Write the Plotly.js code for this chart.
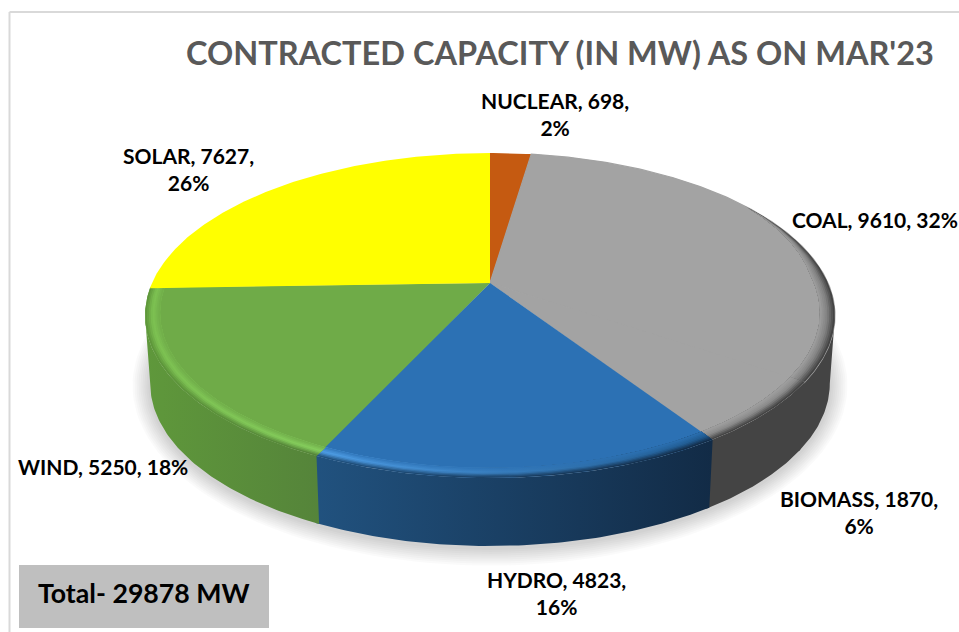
<!DOCTYPE html>
<html>
<head>
<meta charset="utf-8">
<script src="https://cdn.plot.ly/plotly-3.0.1.min.js"></script>
<style>html,body{margin:0;padding:0;background:#fff;overflow:hidden}#chart{width:959px;height:632px}</style>
</head>
<body>
<div id="chart"></div>
<script>
// ---- data ----
const categories = ['NUCLEAR', 'COAL', 'BIOMASS', 'HYDRO', 'WIND', 'SOLAR'];
const capacityMW = [698, 9610, 1870, 4823, 5250, 7627];
const chartTitle = "CONTRACTED CAPACITY (IN MW) AS ON MAR'23";
const totalLabel = 'Total- 29878 MW';

// ---- styles ----
const styles = {
  NUCLEAR: {base:'#c55a11', hlL:'#c55a11', hlR:'#c55a11', sideL:'#c55a11', sideR:'#c55a11'},
  COAL:    {base:'#a3a3a3', hlL:'#8a8a8a', hlR:'#808080', sideL:'#444444', sideR:'#444444'},
  BIOMASS: {base:'#a3a3a3', hlL:'#8a8a8a', hlR:'#8a8a8a', sideL:'#444444', sideR:'#444444'},
  HYDRO:   {base:'#2c71b4', hlL:'#4f9fe8', hlR:'#1f5a90', sideL:'#21527f', sideR:'#122b46'},
  WIND:    {base:'#6fab48', hlL:'#7dc252', hlR:'#86cf5e', sideL:'#5f983b', sideR:'#55843a'},
  SOLAR:   {base:'#ffff00', hlL:'#ffff00', hlR:'#ffff00', sideL:'#ffff00', sideR:'#ffff00'}
};
const labelPlacement = {
  NUCLEAR:{x:555,y:114,anchor:'center',wrap:1},
  COAL:   {x:790,y:219,anchor:'left',wrap:0},
  BIOMASS:{x:859,y:512,anchor:'center',wrap:1},
  HYDRO:  {x:556,y:593,anchor:'center',wrap:1},
  WIND:   {x:16,y:466,anchor:'left',wrap:0},
  SOLAR:  {x:188,y:169,anchor:'center',wrap:1}
};

// ---- pie geometry (perspective view of a tilted disc) ----
const cx = 490, apexY = 283, A = 338, B = 156, K = 0.2, DEPTH = 68, BEVEL = 0.042, LAYERS = 9;
const TAU = 2 * Math.PI;
const RIM_START = Math.acos(0.55);          // bevel only on the part of the rim facing the viewer
const WALL_START = Math.acos(-K);           // silhouette of the disc: wall visible beyond it
function project(u, v) {
  const w = 1 + K * v;
  return [cx + A * u / w, apexY - B * v / w];
}
function radiusAt(theta, t) {
  const v = Math.cos(theta);
  const f = Math.max(0, Math.min(1, (0.55 - v) / 0.5));
  return 1 - BEVEL * t * f;
}
function arc(a0, a1, t) {
  const n = Math.max(4, Math.ceil((a1 - a0) / 0.012)), pts = [];
  for (let i = 0; i <= n; i++) {
    const th = a0 + (a1 - a0) * i / n, r = radiusAt(th, t);
    pts.push(project(r * Math.sin(th), r * Math.cos(th)));
  }
  return pts;
}
function hex(c){return [1,3,5].map(i=>parseInt(c.substr(i,2),16));}
function mixHex(a,b,t){const p=hex(a),q=hex(b);return '#'+p.map((v,i)=>Math.round(v+(q[i]-v)*t).toString(16).padStart(2,'0')).join('');}

function poly(pts, extra) {
  const xs = pts.map(p=>p[0]), ys = pts.map(p=>p[1]);
  return Object.assign({type:'scatter', mode:'lines', x:xs.concat(xs[0]), y:ys.concat(ys[0]), fill:'toself',
    line:{width:0}, hoverinfo:'skip', showlegend:false, xaxis:'x', yaxis:'y'}, extra);
}
function gradFill(x0, x1, cL, cR) {
  return {fillgradient:{type:'horizontal', start:x0, stop:x1, colorscale:[[0,cL],[1,cR]]}};
}
function xSpan(pts){const xs=pts.map(p=>p[0]);return [Math.min(...xs),Math.max(...xs)];}

const total = capacityMW.reduce((a,b)=>a+b,0);
const traces = [];

// soft shadow below the disc
for (let i = 0; i < 9; i++) {
  const grow = (9 - i) * 2.0, pts = [];
  for (let j = 0; j <= 180; j++) {
    const th = j/180*TAU, p = project(Math.sin(th), Math.cos(th));
    const dx = p[0]-cx, dy = p[1]-316;
    pts.push([cx + dx*(0.985*(345+grow)/345), 316+DEPTH+2 + dy*(165+grow)/165]);
  }
  traces.push(poly(pts,{fillcolor:'rgba(0,0,0,0.02)'}));
}

// slice angles from the values
let cum = 0;
const slices = categories.map((name,i)=>{
  const a0 = cum/total*TAU; cum += capacityMW[i];
  return {name, value:capacityMW[i], a0, a1:cum/total*TAU, st:styles[name]};
});

// side wall: only the arc between the two silhouette points, slices overlap slightly
slices.forEach((s,i)=>{
  const a0 = Math.max(s.a0, WALL_START), a1 = Math.min(s.a1 + (i<slices.length-1?0.01:0), TAU-WALL_START);
  if (a1 <= a0) return;
  const top = arc(a0, a1, 0);
  const bottom = top.map(p=>[cx+(p[0]-cx)*0.985, p[1]+DEPTH]).reverse();
  const pts = top.concat(bottom), sp = xSpan(pts);
  traces.push(poly(pts, Object.assign({fillcolor:s.st.sideL, name:s.name}, gradFill(sp[0],sp[1],s.st.sideL,s.st.sideR))));
});

// top surface: flat sector, then nested bevel strips along the front of the rim
slices.forEach((s,i)=>{
  const st = s.st, over = i<slices.length-1 ? 0.004 : 0;
  const next = slices[i+1];
  const sameAsNext = next && next.st.base === st.base;
  const sector = [[cx,apexY]].concat(arc(s.a0,s.a1+over,0));
  traces.push(poly(sector,{fillcolor:st.base,name:s.name,text:s.name+', '+s.value,hoverinfo:'text',
    line: sameAsNext ? {width:1.2,color:st.base} : {width:0}}));
  const a0 = Math.max(s.a0,RIM_START), a1 = Math.min(s.a1+over,TAU-RIM_START);
  if (a1 <= a0 || st.base===st.sideL) return;
  const inner = arc(a0,a1,1).reverse();
  for (let l = 0; l < LAYERS-1; l++) {
    const t = l/(LAYERS-1);
    const pts = arc(a0,a1,t).concat(inner), sp = xSpan(pts);
    const col = (side,hl)=> t<0.45 ? mixHex(side,hl,t/0.45) : mixHex(hl,st.base,(t-0.45)/0.55);
    traces.push(poly(pts,Object.assign({fillcolor:st.base,name:s.name},gradFill(sp[0],sp[1],col(st.sideL,st.hlL),col(st.sideR,st.hlR)))));
  }
});

// labels
const labelFont = {family:'Lato, Carlito, sans-serif', size:21, color:'#000000'};
const annotations = slices.map(s=>{
  const p = labelPlacement[s.name], pct = Math.round(s.value/total*100)+'%';
  return {x:p.x, y:p.y, xref:'x', yref:'y', xanchor:p.anchor, yanchor:'middle', align:'center', showarrow:false,
    text:'<b>'+s.name+', '+s.value+','+(p.wrap?'<br>':' ')+pct+'</b>', font:labelFont};
});
annotations.push({x:144,y:593,xref:'x',yref:'y',xanchor:'center',yanchor:'middle',showarrow:false,
  text:'<b>'+totalLabel+'</b>',font:{family:'Lato, Carlito, sans-serif',size:26.7,color:'#000000'}});

const layout = {
  width:959, height:632, margin:{l:0,r:0,t:0,b:0}, paper_bgcolor:'#ffffff', plot_bgcolor:'#ffffff',
  showlegend:false, hovermode:'closest',
  title:{text:'<b>'+chartTitle+'</b>', x:560/959, xanchor:'center', y:1-54/632, yanchor:'middle',
    font:{family:'Lato, Carlito, sans-serif', size:32.5, color:'#595959'}},
  xaxis:{range:[0,959], visible:false, fixedrange:true},
  yaxis:{range:[632,0], visible:false, fixedrange:true},
  annotations,
  shapes:[
    {type:'line',xref:'x',yref:'y',x0:9.5,x1:959,y0:12,y1:12,line:{color:'#d9d9d9',width:2},layer:'below'},
    {type:'line',xref:'x',yref:'y',x0:9.5,x1:9.5,y0:12,y1:632,line:{color:'#d9d9d9',width:2},layer:'below'},
    {type:'rect',xref:'x',yref:'y',x0:19,x1:269,y0:565,y1:628,fillcolor:'#bfbfbf',line:{width:0},layer:'below'}
  ]
};
Plotly.newPlot('chart', traces, layout, {displayModeBar:false, responsive:false});
</script>
</body>
</html>
